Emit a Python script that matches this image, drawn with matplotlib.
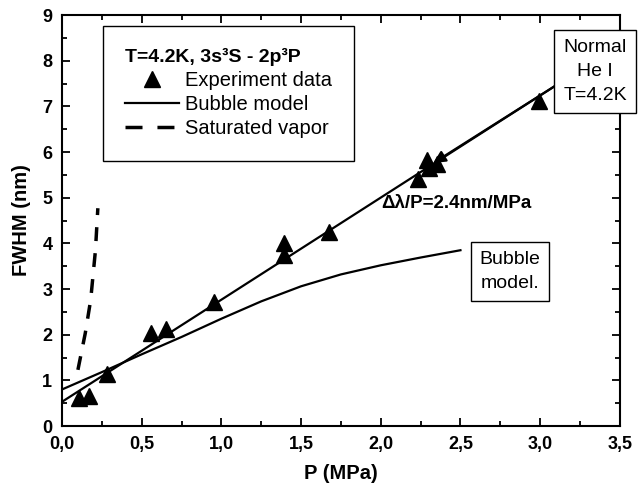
import numpy as np
import matplotlib
matplotlib.use('Agg')
from matplotlib import pyplot as plt
from matplotlib.lines import Line2D
from matplotlib.ticker import MultipleLocator, FuncFormatter

plt.rcParams['font.family'] = ['Liberation Sans', 'DejaVu Sans']

# экспериментальные точки
p_exp = [0.108, 0.17, 0.285, 0.56, 0.655, 0.956, 1.39, 1.39, 1.675,
         2.233, 2.29, 2.30, 2.35, 2.99]
fwhm_exp = [0.61, 0.66, 1.14, 2.03, 2.12, 2.72, 3.74, 4.01, 4.25,
            5.42, 5.82, 5.64, 5.73, 7.12]

# линейная аппроксимация
p_fit = [0.0, 3.09]
fwhm_fit = [0.53, 7.44]

# модель пузырька
p_bub = [0.0, 0.25, 0.5, 0.75, 1.0, 1.25, 1.5, 1.75, 2.0, 2.25, 2.5]
fwhm_bub = [0.80, 1.18, 1.57, 1.95, 2.35, 2.73, 3.06, 3.32, 3.52, 3.69, 3.85]

# насыщенный пар
p_vap = [0.10, 0.146, 0.18, 0.21, 0.225]
fwhm_vap = [1.23, 2.03, 2.76, 3.85, 4.77]

fig = plt.figure(figsize=(6.39, 4.90), dpi=100)
ax = fig.add_axes([0.097, 0.1306, 0.873, 0.8386])

ax.plot(p_fit, fwhm_fit, color='black', lw=1.6, zorder=2)
ax.plot(p_bub, fwhm_bub, color='black', lw=1.6, zorder=2)
ax.plot(p_vap, fwhm_vap, color='black', lw=2.5, ls=(0, (4, 3.5)), zorder=2)
ax.plot(p_exp, fwhm_exp, ls='none', marker='^', ms=11, color='black', zorder=3)

# стрелка от подписи к точкам
ax.annotate('', xy=(2.33, 0.53 + 2.245 * 2.33), xytext=(3.09, 7.44),
            arrowprops=dict(arrowstyle='-|>', color='black', lw=1.6,
                            mutation_scale=18, shrinkA=0, shrinkB=0))

ax.set_xlim(0, 3.5)
ax.set_ylim(0, 9)
ax.xaxis.set_major_locator(MultipleLocator(0.5))
ax.xaxis.set_minor_locator(MultipleLocator(0.25))
ax.yaxis.set_major_locator(MultipleLocator(1))
ax.yaxis.set_minor_locator(MultipleLocator(0.5))
ax.xaxis.set_major_formatter(FuncFormatter(lambda v, pos: ('%.1f' % v).replace('.', ',')))
ax.tick_params(which='both', direction='in', top=True, right=True, width=1.3)
ax.tick_params(which='major', length=6, labelsize=13, pad=7)
ax.tick_params(which='minor', length=3.5)
for lab in ax.get_xticklabels() + ax.get_yticklabels():
    lab.set_fontweight('bold')
for sp in ax.spines.values():
    sp.set_linewidth(1.5)

ax.set_xlabel('P (MPa)', fontsize=14.5, fontweight='bold', labelpad=8)
ax.set_ylabel('FWHM (nm)', fontsize=14.5, fontweight='bold', labelpad=8)

handles = [
    Line2D([], [], ls='none', marker='^', ms=11, color='black'),
    Line2D([], [], color='black', lw=1.6),
    Line2D([], [], color='black', lw=2.5, ls=(0, (4.9, 4.3))),
]
leg = ax.legend(handles, ['Experiment data', 'Bubble model', 'Saturated vapor'],
                loc='upper left', bbox_to_anchor=(0.073, 0.973),
                title='T=4.2K, 3s\u00b3S - 2p\u00b3P', alignment='left',
                fontsize=14.5, fancybox=False, framealpha=1, edgecolor='black',
                handlelength=2.7, handletextpad=0.3, labelspacing=0.25,
                borderpad=1.1, borderaxespad=0)
leg.get_title().set_fontweight('bold')
leg.get_title().set_fontsize(14)
leg.get_frame().set_linewidth(1.0)

box = dict(boxstyle='square,pad=0.45', facecolor='white', edgecolor='black', lw=1.0)
ax.text(3.344, 7.77, 'Normal\nHe I\nT=4.2K', ha='center', va='center', fontsize=14,
        bbox=box, clip_on=False, zorder=5, linespacing=1.55)
ax.text(2.81, 3.39, 'Bubble\nmodel.', ha='center', va='center', fontsize=14,
        bbox=box, zorder=5, linespacing=1.55)
ax.text(2.006, 4.88, '\u0394\u03bb/P=2.4nm/MPa', ha='left', va='center', fontsize=13.5,
        fontweight='bold', zorder=5)

fig.savefig('out.png', dpi=100)
